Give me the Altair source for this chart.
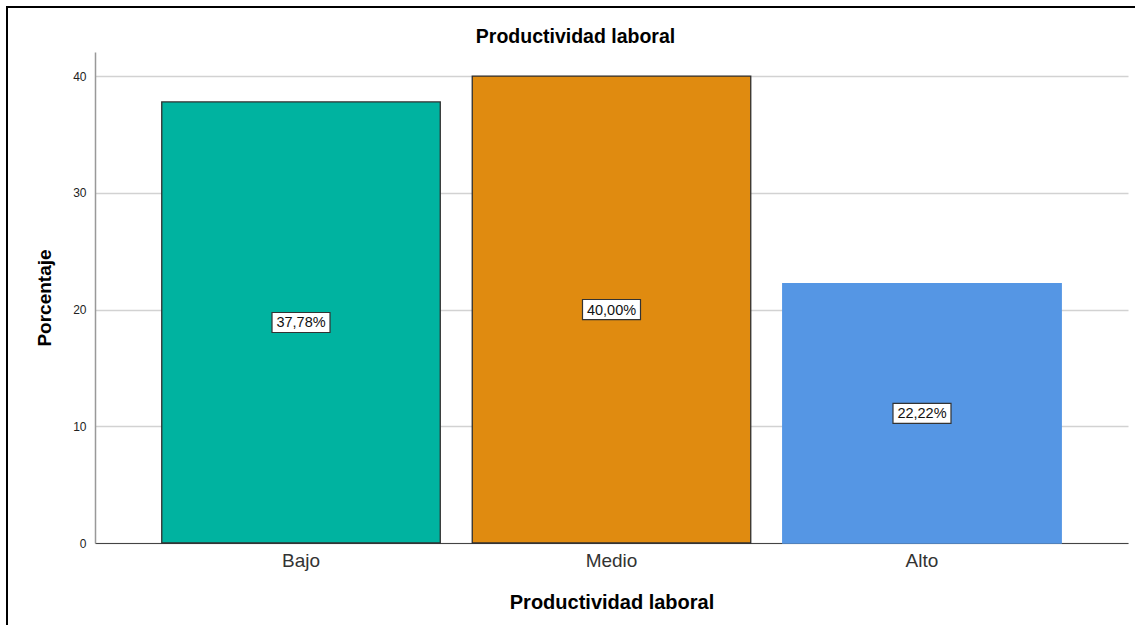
import altair as alt
import pandas as pd

categories = ["Bajo", "Medio", "Alto"]
values = [37.78, 40.00, 22.22]
labels = ["37,78%", "40,00%", "22,22%"]
colors = ["#00b3a0", "#e08b10", "#5596e4"]
strokes = ["#2f2f2f", "#2f2f2f", "#5596e4"]

df = pd.DataFrame({"cat": categories, "val": values, "lab": labels})
df["mid"] = df["val"] / 2

FONT = "Liberation Sans"

x = alt.X("cat:N", sort=categories,
          scale=alt.Scale(paddingInner=0.103, paddingOuter=0.215),
          axis=alt.Axis(title="Productividad laboral", labelAngle=0, labelFontSize=19,
                        labelColor="#333333", labelFont=FONT, labelPadding=8,
                        titleFontSize=20, titleFont=FONT, titleFontWeight="bold",
                        titleColor="#000000", titlePadding=22, ticks=False,
                        domainColor="#444444", domainWidth=1.2))

bars = alt.Chart(df).mark_bar(strokeWidth=1.3).encode(
    x=x,
    y=alt.Y("val:Q", scale=alt.Scale(domain=[0, 42.06], nice=False),
            axis=alt.Axis(title="Porcentaje", values=[0, 10, 20, 30, 40], format="d",
                          labelFontSize=12, labelFont=FONT, labelColor="#222222",
                          labelPadding=9, ticks=False, grid=True, gridColor="#d2d2d2",
                          gridWidth=1.5, domainColor="#999999", domainWidth=1.5,
                          titleFontSize=19, titleFont=FONT, titleFontWeight="bold",
                          titleColor="#000000", titlePadding=18)),
    color=alt.Color("cat:N", sort=categories, scale=alt.Scale(domain=categories, range=colors), legend=None),
    stroke=alt.Stroke("cat:N", sort=categories, scale=alt.Scale(domain=categories, range=strokes), legend=None),
)

box = alt.Chart(df).mark_point(
    shape="M-1,-0.345L1,-0.345L1,0.345L-1,0.345Z", size=3364,
    filled=True, fill="white", stroke="#333333", strokeWidth=1.2, opacity=1
).encode(x=alt.X("cat:N", sort=categories), y="mid:Q")

txt = alt.Chart(df).mark_text(fontSize=14.5, font=FONT, color="#111111", dy=1).encode(
    x=alt.X("cat:N", sort=categories), y="mid:Q", text="lab:N")

frame_left = alt.Chart(df).mark_rule(color="#000000", strokeWidth=2).encode(
    x=alt.value(-88), y=alt.value(-45), y2=alt.value(580))
frame_top = alt.Chart(df).mark_rule(color="#000000", strokeWidth=2).encode(
    x=alt.value(-89), x2=alt.value(1045), y=alt.value(-45))

chart = alt.layer(bars, box, txt, frame_left, frame_top).properties(
    width=1033, height=491,
    title=alt.TitleParams("Productividad laboral", fontSize=19.5, font=FONT, fontWeight="bold",
                          color="#000000", anchor="middle", dx=-36, dy=51, offset=10),
    autosize=alt.AutoSizeParams(type="none"),
    padding={"left": 95, "top": 52, "right": 7, "bottom": 82},
    background="white",
).configure_view(stroke=None)

chart.save("out.html", embed_options={"renderer": "svg", "actions": False})
